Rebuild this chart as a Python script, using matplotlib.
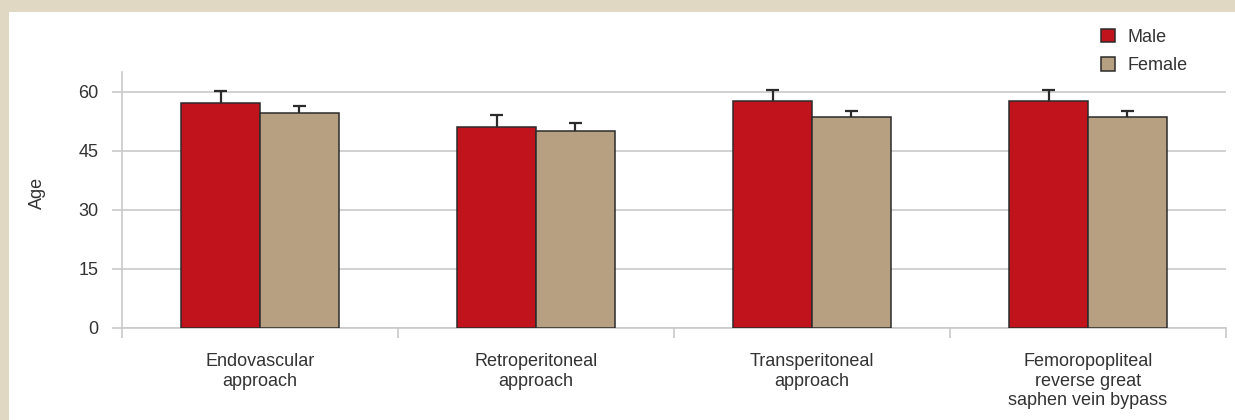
import matplotlib.pyplot as plt
import matplotlib.patches as patches
import numpy as np

# ==================== data ====================
categories = ["Endovascular\napproach", "Retroperitoneal\napproach",
              "Transperitoneal\napproach",
              "Femoropopliteal\nreverse great\nsaphen vein bypass"]
male_mean = [57.2, 51.1, 57.7, 57.7]
male_err = [2.9, 2.9, 2.8, 2.8]
female_mean = [54.5, 50.1, 53.5, 53.5]
female_err = [1.8, 1.9, 1.7, 1.7]
y_ticks = [0, 15, 30, 45, 60]

# ==================== style ====================
W, H, DPI = 1235, 420, 100
BEIGE = "#E0D8C3"
MALE_C = "#C1131B"
FEMALE_C = "#B6A081"
EDGE_C = "#2b2b2b"
GRID_C = "#c9c9c9"
TEXT_C = "#333333"
FS = 13
plt.rcParams['font.family'] = ['Liberation Sans', 'DejaVu Sans']

fig = plt.figure(figsize=(W / DPI, H / DPI), dpi=DPI, facecolor=BEIGE)
# white panel (beige strip on left and top)
fig.patches.append(patches.Rectangle((9 / W, 0), 1, 1 - 12 / H, transform=fig.transFigure,
                                     facecolor="white", edgecolor="none", zorder=-10))

ax = fig.add_axes([122 / W, 1 - 328 / H, (1226 - 122) / W, (328 - 72) / H])
ax.set_facecolor("none")

x = np.arange(len(categories))
bw = 0.286
cap = 0.024  # half cap width in category units


def bars_with_err(xs, means, errs, color, label):
    ax.bar(xs, means, bw, color=color, edgecolor=EDGE_C, linewidth=1.1,
           label=label, zorder=3)
    tops = np.array(means) + np.array(errs)
    ax.vlines(xs, means, tops, color=EDGE_C, linewidth=1.6, zorder=4)
    ax.hlines(tops, xs - cap, xs + cap, color=EDGE_C, linewidth=1.6, zorder=4)


bars_with_err(x - bw / 2, male_mean, male_err, MALE_C, "Male")
bars_with_err(x + bw / 2, female_mean, female_err, FEMALE_C, "Female")

ax.set_xlim(-0.5, len(categories) - 0.5)
ax.set_ylim(0, 65)
ax.set_yticks(y_ticks)
ax.yaxis.grid(True, color=GRID_C, linewidth=1.2, zorder=0)
ax.set_axisbelow(True)

# category labels between boundary ticks
ax.set_xticks(np.arange(len(categories) + 1) - 0.5)
ax.set_xticklabels([])
ax.set_xticks(x, minor=True)
ax.set_xticklabels(categories, minor=True, fontsize=FS, color=TEXT_C, linespacing=1.2)
ax.tick_params(axis="x", which="minor", length=0, pad=18)
ax.tick_params(axis="x", which="major", length=7, width=1.2, color=GRID_C)
ax.tick_params(axis="y", length=7, width=1.2, color=GRID_C, labelsize=FS,
               labelcolor=TEXT_C, pad=10)

for s in ["top", "right"]:
    ax.spines[s].set_visible(False)
for s in ["left", "bottom"]:
    ax.spines[s].set_color(GRID_C)
    ax.spines[s].set_linewidth(1.2)

fig.text(37 / W, 1 - 193 / H, "Age", rotation=90, ha="center", va="center",
         fontsize=FS, color=TEXT_C)

leg = fig.legend(loc="upper left", bbox_to_anchor=(1092 / W, 1 - 20 / H), frameon=False,
                 fontsize=FS, handlelength=0.75, handleheight=0.75, handletextpad=0.7,
                 labelspacing=0.62, borderpad=0)
for t in leg.get_texts():
    t.set_color(TEXT_C)

fig.savefig("out.png", dpi=DPI, facecolor=BEIGE)
